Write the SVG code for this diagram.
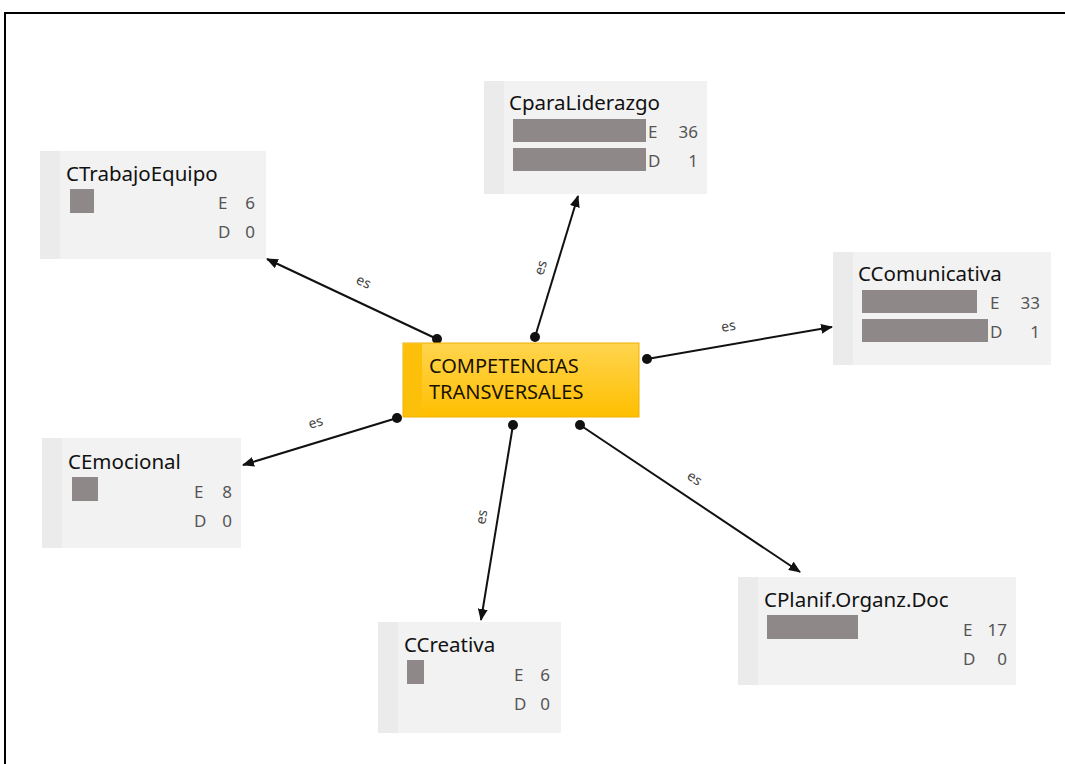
<svg xmlns="http://www.w3.org/2000/svg" width="1065" height="764" viewBox="0 0 1065 764">
<defs>
<style>
.box{fill:#f2f2f2}
.strip{fill:#ebebeb}
.title{font-family:"Noto Sans","Open Sans",sans-serif;font-size:20.5px;fill:#111}
.num{font-family:"Noto Sans","Open Sans",sans-serif;font-size:17px;fill:#555}
.bar{fill:#8f8888}
.edge{stroke:#111;stroke-width:2;fill:none}
.lbl{font-family:"Noto Sans","Open Sans",sans-serif;font-size:14px;fill:#444}
.main{font-family:"Noto Sans","Open Sans",sans-serif;font-size:20px;fill:#1a1200}
</style>
<linearGradient id="gold" x1="0" y1="0" x2="0" y2="1">
<stop offset="0" stop-color="#ffd54f"/>
<stop offset="1" stop-color="#ffbf00"/>
</linearGradient>
<marker id="arr" viewBox="0 0 12 10" refX="11" refY="5" markerWidth="12" markerHeight="10" markerUnits="userSpaceOnUse" orient="auto">
<path d="M0,0 L12,5 L0,10 Z" fill="#111"/>
</marker>
<marker id="dot" viewBox="0 0 10 10" refX="5" refY="5" markerWidth="10" markerHeight="10" markerUnits="userSpaceOnUse">
<circle cx="5" cy="5" r="5" fill="#111"/>
</marker>
</defs>
<rect width="1065" height="764" fill="#fff"/>
<path d="M5,764 V13 H1065" stroke="#000" stroke-width="2" fill="none"/>

<g id="connectors">
<line class="edge" x1="437" y1="339" x2="267" y2="259" marker-start="url(#dot)" marker-end="url(#arr)"/>
<text class="lbl" transform="translate(355,283) rotate(25)">es</text>
<line class="edge" x1="535" y1="337" x2="578" y2="196" marker-start="url(#dot)" marker-end="url(#arr)"/>
<text class="lbl" transform="translate(543,276) rotate(-73)">es</text>
<line class="edge" x1="647" y1="359" x2="832" y2="327" marker-start="url(#dot)" marker-end="url(#arr)"/>
<text class="lbl" transform="translate(722,332) rotate(-10)">es</text>
<line class="edge" x1="397" y1="418" x2="243" y2="465" marker-start="url(#dot)" marker-end="url(#arr)"/>
<text class="lbl" transform="translate(310,429) rotate(-17)">es</text>
<line class="edge" x1="513" y1="425" x2="481" y2="620" marker-start="url(#dot)" marker-end="url(#arr)"/>
<text class="lbl" transform="translate(485,525) rotate(-80)">es</text>
<line class="edge" x1="580" y1="425" x2="800" y2="572" marker-start="url(#dot)" marker-end="url(#arr)"/>
<text class="lbl" transform="translate(686,478) rotate(34)">es</text>
</g>

<g id="center">
<rect x="403" y="343" width="236" height="74" fill="url(#gold)" stroke="#f0b000" stroke-width="1"/>
<rect x="404" y="344" width="18" height="72" fill="#fcbf0a"/>
<text class="main" x="429" y="373">COMPETENCIAS</text>
<text class="main" x="429" y="399">TRANSVERSALES</text>
</g>

<g id="CTrabajoEquipo">
<rect class="box" x="40" y="151" width="226" height="108"/>
<rect class="strip" x="40" y="151" width="20" height="108"/>
<text class="title" x="66" y="181">CTrabajoEquipo</text>
<rect class="bar" x="70" y="189" width="24" height="24"/>
<text class="num" x="218" y="209">E</text><text class="num" x="255" y="209" text-anchor="end">6</text>
<text class="num" x="218" y="238">D</text><text class="num" x="255" y="238" text-anchor="end">0</text>
</g>

<g id="CparaLiderazgo">
<rect class="box" x="484" y="81" width="223" height="113"/>
<rect class="strip" x="484" y="81" width="20" height="113"/>
<text class="title" x="509" y="110">CparaLiderazgo</text>
<rect class="bar" x="513" y="119" width="133" height="23"/>
<rect class="bar" x="513" y="148" width="133" height="23"/>
<text class="num" x="648" y="138">E</text><text class="num" x="698" y="138" text-anchor="end">36</text>
<text class="num" x="648" y="167">D</text><text class="num" x="698" y="167" text-anchor="end">1</text>
</g>

<g id="CComunicativa">
<rect class="box" x="833" y="252" width="218" height="113"/>
<rect class="strip" x="833" y="252" width="20" height="113"/>
<text class="title" x="858" y="281">CComunicativa</text>
<rect class="bar" x="862" y="290" width="115" height="23"/>
<rect class="bar" x="862" y="319" width="126" height="23"/>
<text class="num" x="990" y="309">E</text><text class="num" x="1040" y="309" text-anchor="end">33</text>
<text class="num" x="990" y="338">D</text><text class="num" x="1040" y="338" text-anchor="end">1</text>
</g>

<g id="CEmocional">
<rect class="box" x="42" y="438" width="199" height="110"/>
<rect class="strip" x="42" y="438" width="20" height="110"/>
<text class="title" x="68" y="469">CEmocional</text>
<rect class="bar" x="72" y="477" width="26" height="24"/>
<text class="num" x="194" y="498">E</text><text class="num" x="232" y="498" text-anchor="end">8</text>
<text class="num" x="194" y="527">D</text><text class="num" x="232" y="527" text-anchor="end">0</text>
</g>

<g id="CCreativa">
<rect class="box" x="378" y="622" width="183" height="111"/>
<rect class="strip" x="378" y="622" width="20" height="111"/>
<text class="title" x="404" y="652">CCreativa</text>
<rect class="bar" x="407" y="660" width="17" height="24"/>
<text class="num" x="514" y="681">E</text><text class="num" x="550" y="681" text-anchor="end">6</text>
<text class="num" x="514" y="710">D</text><text class="num" x="550" y="710" text-anchor="end">0</text>
</g>

<g id="CPlanifOrganzDoc">
<rect class="box" x="738" y="577" width="278" height="108"/>
<rect class="strip" x="738" y="577" width="20" height="108"/>
<text class="title" x="764" y="607">CPlanif.Organz.Doc</text>
<rect class="bar" x="767" y="615" width="91" height="24"/>
<text class="num" x="963" y="636">E</text><text class="num" x="1007" y="636" text-anchor="end">17</text>
<text class="num" x="963" y="665">D</text><text class="num" x="1007" y="665" text-anchor="end">0</text>
</g>
</svg>
